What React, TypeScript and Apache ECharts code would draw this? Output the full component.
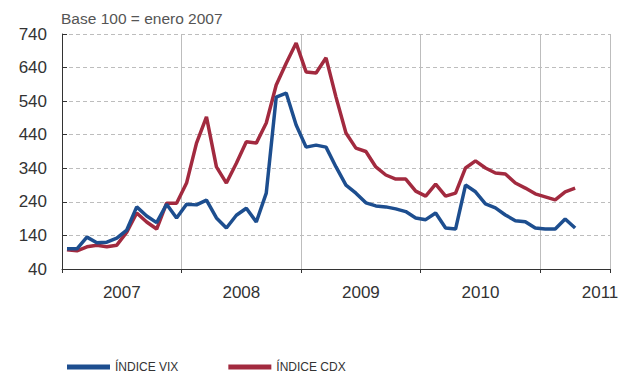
import React, { useEffect, useRef } from "react";
import * as echarts from "echarts";

const years = ["2007", "2008", "2009", "2010", "2011"];
const seriesNames = ["ÍNDICE VIX", "ÍNDICE CDX"];
// Monthly values, Jan 2007 – Apr 2011 (base 100 = enero 2007)
const vix = [
  100, 100, 135, 118, 120, 132, 156, 225, 198, 178, 233, 192,
  233, 231, 245, 192, 162, 200, 221, 180, 266, 552, 564, 469,
  403, 409, 403, 344, 290, 266, 237, 228, 225, 219, 211, 192,
  187, 207, 162, 159, 290, 270, 234, 222, 201, 184, 181, 162,
  159, 159, 189, 162,
];
const cdx = [
  97, 94, 106, 111, 106, 111, 150, 207, 180, 159, 236, 236,
  296, 415, 493, 344, 296, 355, 419, 415, 475, 588, 653, 713,
  627, 624, 669, 552, 445, 400, 390, 344, 320, 308, 308, 272,
  257, 293, 257, 266, 341, 362, 341, 326, 323, 296, 281, 264,
  255, 246, 270, 281,
];
const yTicks = { min: 40, max: 740, interval: 100 };
const monthsShown = 55;

const BLUE = "#1d4e8f";
const RED = "#a22a3f";

export default function App() {
  const ref = useRef<HTMLDivElement>(null);
  useEffect(() => {
    if (!ref.current) return;
    document.body.style.margin = "0";
    const chart = echarts.init(ref.current, null, { renderer: "svg" });
    const toPairs = (arr: number[]) => arr.map((v, i) => [i + 0.5, v]);
    chart.setOption({
      animation: false,
      backgroundColor: "#ffffff",
      textStyle: { fontFamily: "'Liberation Sans', Arial, sans-serif" },
      title: {
        text: "Base 100 = enero 2007",
        left: 56,
        top: 5,
        textStyle: { fontSize: 15.5, fontWeight: "normal", color: "#555" },
      },
      grid: { left: 62, right: 20, top: 34, bottom: 107 },
      legend: {
        left: 62,
        top: 356,
        itemWidth: 43,
        itemHeight: 5,
        itemGap: 50,
        icon: "rect",
        textStyle: {
          fontSize: 12,
          color: "#333",
          fontFamily: "'Liberation Sans Narrow', 'Liberation Sans', sans-serif",
        },
        data: seriesNames,
      },
      xAxis: [
        {
          type: "value",
          min: 0,
          max: monthsShown,
          interval: 6,
          position: "bottom",
          axisLine: { show: true, lineStyle: { color: "#333", width: 1 } },
          axisTick: { show: false },
          splitLine: { show: false },
          axisLabel: {
            fontSize: 17,
            color: "#333",
            margin: 15,
            showMinLabel: true,
            showMaxLabel: true,
            formatter: (v: number) =>
              v % 12 === 6 ? years[(v - 6) / 12] ?? "" : "",
          },
        },
        {
          type: "value",
          min: 0,
          max: monthsShown,
          interval: 12,
          position: "bottom",
          axisLine: { show: false },
          axisTick: {
            show: true,
            length: 4,
            lineStyle: { color: "#333" },
          },
          axisLabel: { show: false },
          splitLine: {
            show: true,
            lineStyle: { color: "#bdbdbd", width: 1, type: "solid" },
          },
        },
      ],
      yAxis: {
        type: "value",
        min: yTicks.min,
        max: yTicks.max,
        interval: yTicks.interval,
        axisLine: { show: true, lineStyle: { color: "#333", width: 1 } },
        axisTick: { show: true, inside: true, length: 5, lineStyle: { color: "#333" } },
        axisLabel: { fontSize: 17, color: "#333", margin: 15 },
        splitLine: {
          show: true,
          lineStyle: { color: "#bdbdbd", width: 1, type: [4, 3] },
        },
      },
      series: [
        {
          name: seriesNames[0],
          type: "line",
          xAxisIndex: 0,
          data: toPairs(vix),
          symbol: "none",
          lineStyle: { color: BLUE, width: 3.5 },
          itemStyle: { color: BLUE },
          z: 3,
        },
        {
          name: seriesNames[1],
          type: "line",
          xAxisIndex: 0,
          data: toPairs(cdx),
          symbol: "none",
          lineStyle: { color: RED, width: 3.5 },
          itemStyle: { color: RED },
          z: 2,
        },
      ],
    });
    return () => chart.dispose();
  }, []);
  return (
    <div
      ref={ref}
      style={{ width: 630, height: 376, position: "absolute", left: 0, top: 0 }}
    />
  );
}
